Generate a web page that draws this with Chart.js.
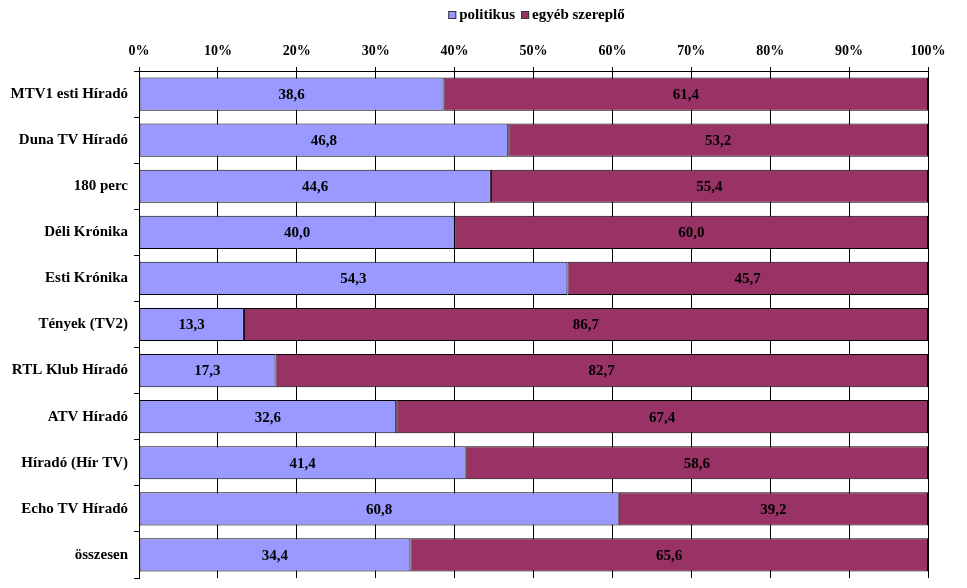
<!DOCTYPE html>
<html>
<head>
<meta charset="utf-8">
<script src="https://cdn.jsdelivr.net/npm/chart.js@4"></script>
<style>
  body { margin: 0; background: #fff; }
  canvas { display: block; }
</style>
</head>
<body>
<canvas id="chart" width="967" height="588"></canvas>
<script>
// categories and values (percent)
const categories = [
    'MTV1 esti Híradó', 'Duna TV Híradó', '180 perc', 'Déli Krónika', 'Esti Krónika',
    'Tények (TV2)', 'RTL Klub Híradó', 'ATV Híradó', 'Híradó (Hír TV)', 'Echo TV Híradó', 'összesen'
];
const politikus = [38.6, 46.8, 44.6, 40.0, 54.3, 13.3, 17.3, 32.6, 41.4, 60.8, 34.4];
const egyeb = [61.4, 53.2, 55.4, 60.0, 45.7, 86.7, 82.7, 67.4, 58.6, 39.2, 65.6];
const seriesNames = ['politikus', 'egyéb szereplő'];
const xTicks = [0, 10, 20, 30, 40, 50, 60, 70, 80, 90, 100];

const FONT = '"Liberation Serif", "Times New Roman", serif';

// value labels in the middle of each bar
const valueLabels = {
    id: 'valueLabels',
    afterDatasetsDraw(chart) {
        const ctx = chart.ctx;
        ctx.save();
        ctx.font = 'bold 15px ' + FONT;
        ctx.fillStyle = '#000';
        ctx.textAlign = 'center';
        ctx.textBaseline = 'middle';
        chart.data.datasets.forEach((ds, i) => {
            chart.getDatasetMeta(i).data.forEach((bar, j) => {
                const cx = (bar.x + bar.base) / 2;
                ctx.fillText(ds.data[j].toFixed(1).replace('.', ','), cx, bar.y + 1);
            });
        });
        ctx.restore();
    }
};

// legend drawn over the plot area centre
const topLegend = {
    id: 'topLegend',
    afterDraw(chart) {
        const ctx = chart.ctx;
        const area = chart.chartArea;
        ctx.save();
        ctx.font = 'bold 15px ' + FONT;
        ctx.textBaseline = 'middle';
        const box = 8, gap = 3, itemGap = 6;
        const widths = chart.data.datasets.map(ds => box + gap + ctx.measureText(ds.label).width);
        const total = widths.reduce((a, b) => a + b, 0) + itemGap;
        let x = (area.left + area.right) / 2 - total / 2 + 3;
        const y = 15;
        chart.data.datasets.forEach((ds, i) => {
            ctx.fillStyle = ds.backgroundColor;
            ctx.fillRect(x, y - box / 2, box, box);
            ctx.strokeStyle = '#333';
            ctx.lineWidth = 1;
            ctx.strokeRect(x + 0.5, y - box / 2 + 0.5, box - 1, box - 1);
            ctx.fillStyle = '#000';
            ctx.fillText(ds.label, x + box + gap, y);
            x += widths[i] + itemGap;
        });
        ctx.restore();
    }
};

new Chart(document.getElementById('chart').getContext('2d'), {
    type: 'bar',
    data: {
        labels: categories,
        datasets: [
            {
                label: seriesNames[0],
                data: politikus,
                backgroundColor: '#9999FF',
                borderColor: '#000',
                borderWidth: 1,
                borderSkipped: false
            },
            {
                label: seriesNames[1],
                data: egyeb,
                backgroundColor: '#993366',
                borderColor: '#000',
                borderWidth: 1,
                borderSkipped: false
            }
        ]
    },
    options: {
        indexAxis: 'y',
        responsive: false,
        animation: false,
        layout: { padding: { top: 40, right: 39, bottom: 10, left: 0 } },
        datasets: { bar: { categoryPercentage: 1, barPercentage: 0.72 } },
        plugins: {
            legend: { display: false },
            tooltip: { enabled: false }
        },
        scales: {
            x: {
                position: 'top',
                stacked: true,
                min: 0,
                max: 100,
                afterBuildTicks: scale => { scale.ticks = xTicks.map(v => ({ value: v })); },
                afterFit: scale => { scale.height = 31; },
                ticks: {
                    callback: v => v + '%',
                    color: '#000',
                    font: { family: FONT, size: 14, weight: 'bold' },
                    padding: 7,
                    maxRotation: 0
                },
                grid: { color: '#000', tickColor: '#000', tickLength: 4, lineWidth: 1 },
                border: { display: true, color: '#000' }
            },
            y: {
                stacked: true,
                afterFit: scale => {
                    scale.width = 139;
                    scale.paddingTop = 0;
                    scale.paddingBottom = 0;
                },
                ticks: {
                    color: '#000',
                    font: { family: FONT, size: 15, weight: 'bold' },
                    padding: 6
                },
                grid: { offset: true, drawOnChartArea: false, tickColor: '#000', tickLength: 5 },
                border: { display: true, color: '#000' }
            }
        }
    },
    plugins: [valueLabels, topLegend]
});
</script>
</body>
</html>
